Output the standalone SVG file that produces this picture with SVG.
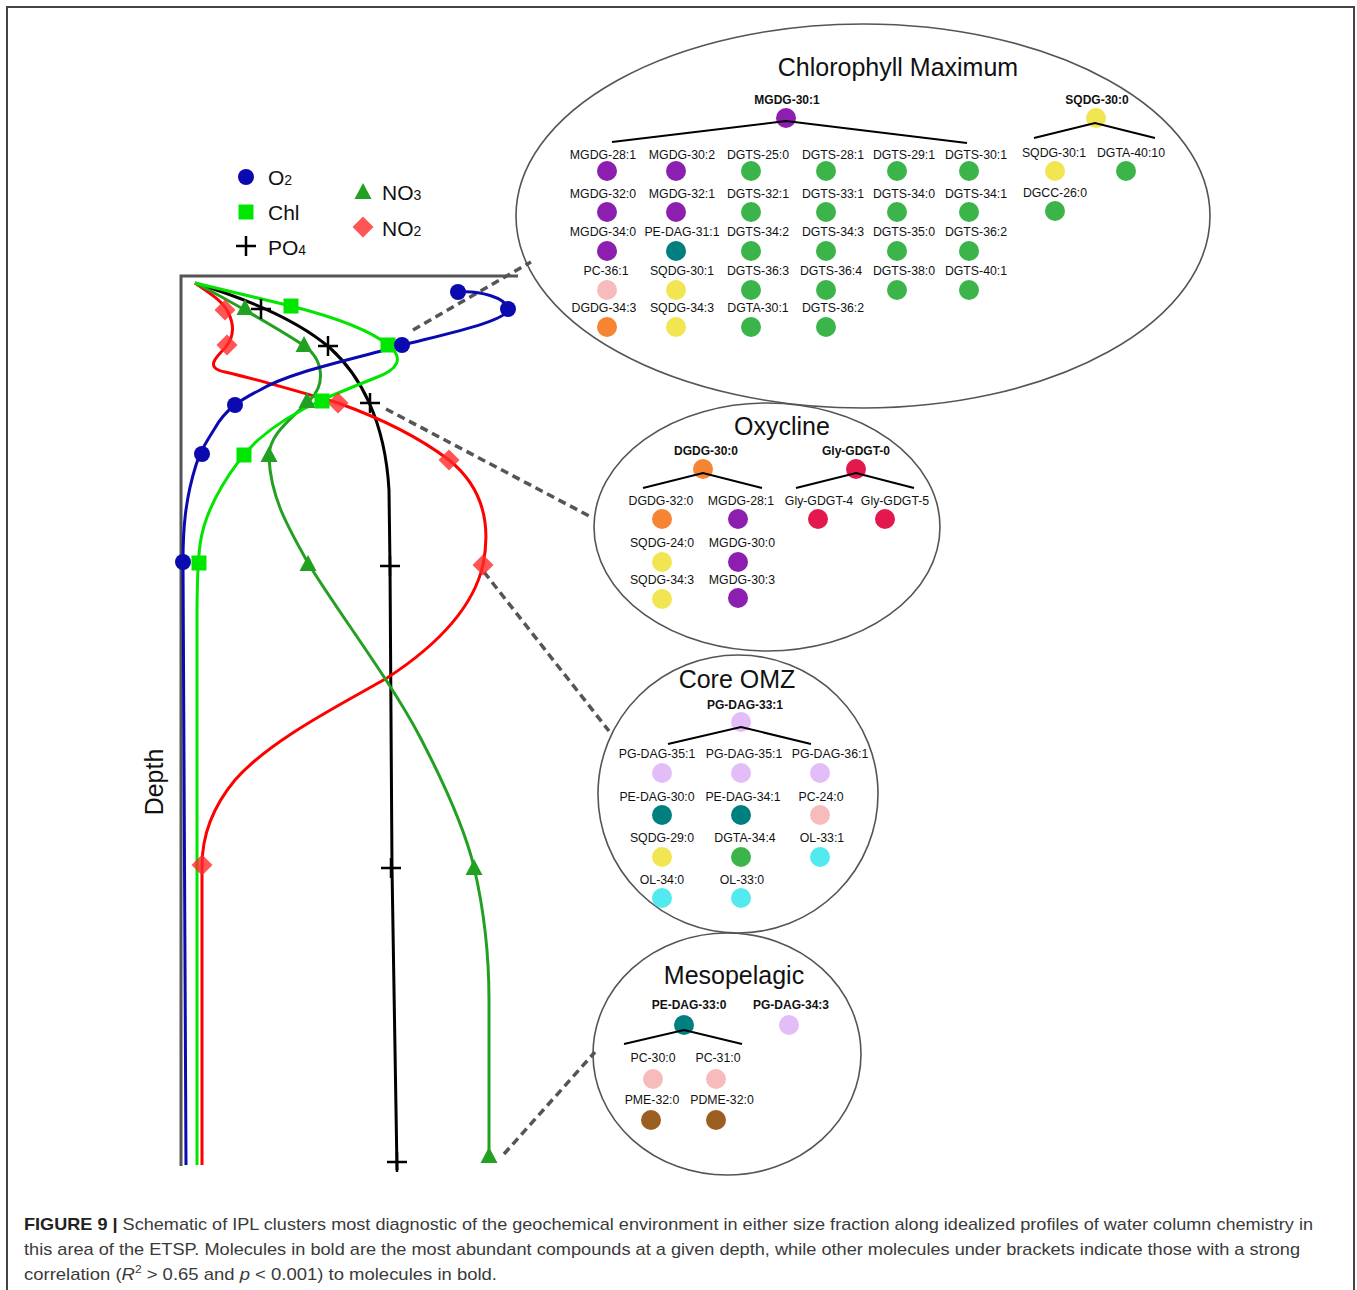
<svg xmlns="http://www.w3.org/2000/svg" width="1357" height="1290" viewBox="0 0 1357 1290">
<style>
text{font-family:"Liberation Sans",Arial,sans-serif;fill:#111}
.l{font-size:12.3px;text-anchor:middle}
.b{font-size:12px;font-weight:bold;text-anchor:middle}
.t{font-size:25px;text-anchor:middle}
.lg{font-size:21px}
.sub{font-size:14px}
.cap{font-size:17px;fill:#3a3a3a}
.ell{fill:none;stroke:#555;stroke-width:1.6}
.br{fill:none;stroke:#000;stroke-width:2}
.dash{fill:none;stroke:#555;stroke-width:3.5;stroke-dasharray:8,5}
.cv{fill:none;stroke-width:3;stroke-linejoin:round}
.pu{fill:#8c1fb0}.gr{fill:#3bb54a}.te{fill:#007f7f}.pk{fill:#f8bbbb}.ye{fill:#f2e552}
.or{fill:#f58433}.cr{fill:#e3184c}.vi{fill:#e3bdf8}.cy{fill:#52eaef}.bw{fill:#9b5e21}
.mO{fill:#0a0ab0}.mC{fill:#00e600}.mN3{fill:#22a022}.mN2{fill:#ff2a2a;fill-opacity:0.8}
.mP{stroke:#000;stroke-width:2.5;fill:none}
</style>
<defs>
<circle id="dot" r="10"/>
<circle id="mo" r="8"/>
<rect id="mc" x="-7.5" y="-7.5" width="15" height="15"/>
<polygon id="mt" points="0,-9 8.5,7 -8.5,7"/>
<polygon id="md" points="0,-10.5 10.5,0 0,10.5 -10.5,0"/>
<path id="mp" d="M-10,0H10M0,-10V10"/>
</defs>

<path d="M7,1290V7H1354V1290" fill="none" stroke="#444" stroke-width="2"/>

<g id="plot">
<path d="M181,1166V276H518" fill="none" stroke="#555" stroke-width="3"/>
<text x="0" y="0" font-size="25" text-anchor="middle" transform="translate(163,782) rotate(-90)">Depth</text>
</g>

<g id="legend">
<use href="#mo" class="mO" x="246" y="177"/><text class="lg" x="268" y="185">O<tspan class="sub">2</tspan></text>
<use href="#mc" class="mC" x="246" y="212"/><text class="lg" x="268" y="220">Chl</text>
<use href="#mp" class="mP" x="246" y="246"/><text class="lg" x="268" y="255">PO<tspan class="sub">4</tspan></text>
<use href="#mt" class="mN3" x="363" y="192"/><text class="lg" x="382" y="200">NO<tspan class="sub">3</tspan></text>
<use href="#md" class="mN2" x="363" y="227"/><text class="lg" x="382" y="236">NO<tspan class="sub">2</tspan></text>
</g>

<g id="connectors">
<path class="dash" d="M413,330L531,262"/>
<path class="dash" d="M386,409L593,518"/>
<path class="dash" d="M484,572L609,731"/>
<path class="dash" d="M504,1154L595,1052"/>
</g>

<g id="profiles">
<path id="po4" class="cv" stroke="#000" d="M195,283C250,300 300,322 330,348C360,375 385,420 389,490L390,566C391,700 392,800 392,868L397,1170"/>
<path id="no2" class="cv" stroke="#ff0000" d="M195,283C205,290 222,300 228,312C236,328 232,340 225,348C215,358 205,368 225,372C260,380 300,392 338,403C380,418 420,438 449,460C480,485 492,520 483,565C472,612 430,650 387,678C340,705 270,740 235,780C210,810 202,840 202,866L202,1165"/>
<path id="no3" class="cv" stroke="#22a022" d="M195,283C220,295 280,330 303,345C325,360 325,385 310,400C290,420 268,435 269,458C271,500 290,530 308,563C340,615 390,680 420,737C445,785 465,830 474,867C484,910 489,950 489,1000L489,1160"/>
<path id="chl" class="cv" stroke="#00e600" d="M195,283L291,306C330,316 370,330 388,345C405,358 398,370 375,378C355,386 335,394 322,400C300,410 275,425 258,440C235,462 205,505 200,545C198,560 197,580 197,620L197,1165"/>
<path id="o2" class="cv" stroke="#0a0ab0" d="M458,292C480,290 505,298 508,308C511,320 450,333 403,345C350,360 290,372 260,390C240,400 225,410 215,428C205,444 200,452 196,465C185,500 183,530 183,561L186,1165"/>
<g class="mN2"><use href="#md" x="225" y="310"/><use href="#md" x="227" y="345"/><use href="#md" x="338" y="403"/><use href="#md" x="449" y="460"/><use href="#md" x="483" y="565"/><use href="#md" x="202" y="865"/></g>
<g class="mN3"><use href="#mt" x="245" y="308"/><use href="#mt" x="304" y="345"/><use href="#mt" x="307" y="401"/><use href="#mt" x="269" y="455"/><use href="#mt" x="308" y="564"/><use href="#mt" x="474" y="868"/><use href="#mt" x="489" y="1156"/></g>
<g class="mP"><use href="#mp" x="261" y="309"/><use href="#mp" x="328" y="346"/><use href="#mp" x="370" y="403"/><use href="#mp" x="390" y="566"/><use href="#mp" x="391" y="868"/><use href="#mp" x="397" y="1162"/></g>
<g class="mC"><use href="#mc" x="291" y="306"/><use href="#mc" x="388" y="345"/><use href="#mc" x="322" y="401"/><use href="#mc" x="244" y="455"/><use href="#mc" x="199" y="563"/></g>
<g class="mO"><use href="#mo" x="458" y="292"/><use href="#mo" x="508" y="309"/><use href="#mo" x="402" y="345"/><use href="#mo" x="235" y="405"/><use href="#mo" x="202" y="454"/><use href="#mo" x="183" y="562"/></g>
</g>

<g id="chlorophyll-maximum">
<ellipse class="ell" cx="863" cy="216" rx="347" ry="192"/>
<text class="t" x="898" y="76">Chlorophyll Maximum</text>
<g id="cm-MGDG-30-1"><text class="b" x="787" y="104">MGDG-30:1</text><use href="#dot" class="pu" x="786" y="118"/></g>
<path class="br" d="M612,142L786,121L967,143"/>
<g id="cm-MGDG-28-1"><text class="l" x="603" y="159">MGDG-28:1</text><use href="#dot" class="pu" x="607" y="171"/></g>
<g id="cm-MGDG-30-2"><text class="l" x="682" y="159">MGDG-30:2</text><use href="#dot" class="pu" x="676" y="171"/></g>
<g id="cm-DGTS-25-0"><text class="l" x="758" y="159">DGTS-25:0</text><use href="#dot" class="gr" x="751" y="171"/></g>
<g id="cm-DGTS-28-1"><text class="l" x="833" y="159">DGTS-28:1</text><use href="#dot" class="gr" x="826" y="171"/></g>
<g id="cm-DGTS-29-1"><text class="l" x="904" y="159">DGTS-29:1</text><use href="#dot" class="gr" x="897" y="171"/></g>
<g id="cm-DGTS-30-1"><text class="l" x="976" y="159">DGTS-30:1</text><use href="#dot" class="gr" x="969" y="171"/></g>
<g id="cm-MGDG-32-0"><text class="l" x="603" y="198">MGDG-32:0</text><use href="#dot" class="pu" x="607" y="212"/></g>
<g id="cm-MGDG-32-1"><text class="l" x="682" y="198">MGDG-32:1</text><use href="#dot" class="pu" x="676" y="212"/></g>
<g id="cm-DGTS-32-1"><text class="l" x="758" y="198">DGTS-32:1</text><use href="#dot" class="gr" x="751" y="212"/></g>
<g id="cm-DGTS-33-1"><text class="l" x="833" y="198">DGTS-33:1</text><use href="#dot" class="gr" x="826" y="212"/></g>
<g id="cm-DGTS-34-0"><text class="l" x="904" y="198">DGTS-34:0</text><use href="#dot" class="gr" x="897" y="212"/></g>
<g id="cm-DGTS-34-1"><text class="l" x="976" y="198">DGTS-34:1</text><use href="#dot" class="gr" x="969" y="212"/></g>
<g id="cm-MGDG-34-0"><text class="l" x="603" y="236">MGDG-34:0</text><use href="#dot" class="pu" x="607" y="251"/></g>
<g id="cm-PE-DAG-31-1"><text class="l" x="682" y="236">PE-DAG-31:1</text><use href="#dot" class="te" x="676" y="251"/></g>
<g id="cm-DGTS-34-2"><text class="l" x="758" y="236">DGTS-34:2</text><use href="#dot" class="gr" x="751" y="251"/></g>
<g id="cm-DGTS-34-3"><text class="l" x="833" y="236">DGTS-34:3</text><use href="#dot" class="gr" x="826" y="251"/></g>
<g id="cm-DGTS-35-0"><text class="l" x="904" y="236">DGTS-35:0</text><use href="#dot" class="gr" x="897" y="251"/></g>
<g id="cm-DGTS-36-2"><text class="l" x="976" y="236">DGTS-36:2</text><use href="#dot" class="gr" x="969" y="251"/></g>
<g id="cm-PC-36-1"><text class="l" x="606" y="275">PC-36:1</text><use href="#dot" class="pk" x="607" y="290"/></g>
<g id="cm-SQDG-30-1"><text class="l" x="682" y="275">SQDG-30:1</text><use href="#dot" class="ye" x="676" y="290"/></g>
<g id="cm-DGTS-36-3"><text class="l" x="758" y="275">DGTS-36:3</text><use href="#dot" class="gr" x="751" y="290"/></g>
<g id="cm-DGTS-36-4"><text class="l" x="831" y="275">DGTS-36:4</text><use href="#dot" class="gr" x="826" y="290"/></g>
<g id="cm-DGTS-38-0"><text class="l" x="904" y="275">DGTS-38:0</text><use href="#dot" class="gr" x="897" y="290"/></g>
<g id="cm-DGTS-40-1"><text class="l" x="976" y="275">DGTS-40:1</text><use href="#dot" class="gr" x="969" y="290"/></g>
<g id="cm-DGDG-34-3"><text class="l" x="604" y="312">DGDG-34:3</text><use href="#dot" class="or" x="607" y="327"/></g>
<g id="cm-SQDG-34-3"><text class="l" x="682" y="312">SQDG-34:3</text><use href="#dot" class="ye" x="676" y="327"/></g>
<g id="cm-DGTA-30-1"><text class="l" x="758" y="312">DGTA-30:1</text><use href="#dot" class="gr" x="751" y="327"/></g>
<g id="cm-DGTS-36-2b"><text class="l" x="833" y="312">DGTS-36:2</text><use href="#dot" class="gr" x="826" y="327"/></g>
<g id="cm-SQDG-30-0"><text class="b" x="1097" y="104">SQDG-30:0</text><use href="#dot" class="ye" x="1096" y="118"/></g>
<path class="br" d="M1034,138L1095,123L1155,138"/>
<g id="cm-SQDG-30-1b"><text class="l" x="1054" y="157">SQDG-30:1</text><use href="#dot" class="ye" x="1055" y="171"/></g>
<g id="cm-DGTA-40-10"><text class="l" x="1131" y="157">DGTA-40:10</text><use href="#dot" class="gr" x="1126" y="171"/></g>
<g id="cm-DGCC-26-0"><text class="l" x="1055" y="197">DGCC-26:0</text><use href="#dot" class="gr" x="1055" y="211"/></g>
</g>

<g id="oxycline">
<ellipse class="ell" cx="767" cy="527" rx="173" ry="124"/>
<text class="t" x="782" y="435">Oxycline</text>
<g id="ox-DGDG-30-0"><text class="b" x="706" y="455">DGDG-30:0</text><use href="#dot" class="or" x="703" y="469"/></g>
<path class="br" d="M643,488L703,473L762,488"/>
<g id="ox-Gly-GDGT-0"><text class="b" x="856" y="455">Gly-GDGT-0</text><use href="#dot" class="cr" x="856" y="469"/></g>
<path class="br" d="M796,488L856,473L914,488"/>
<g id="ox-DGDG-32-0"><text class="l" x="661" y="505">DGDG-32:0</text><use href="#dot" class="or" x="662" y="519"/></g>
<g id="ox-MGDG-28-1"><text class="l" x="741" y="505">MGDG-28:1</text><use href="#dot" class="pu" x="738" y="519"/></g>
<g id="ox-Gly-GDGT-4"><text class="l" x="819" y="505">Gly-GDGT-4</text><use href="#dot" class="cr" x="818" y="519"/></g>
<g id="ox-Gly-GDGT-5"><text class="l" x="895" y="505">Gly-GDGT-5</text><use href="#dot" class="cr" x="885" y="519"/></g>
<g id="ox-SQDG-24-0"><text class="l" x="662" y="547">SQDG-24:0</text><use href="#dot" class="ye" x="662" y="562"/></g>
<g id="ox-MGDG-30-0"><text class="l" x="742" y="547">MGDG-30:0</text><use href="#dot" class="pu" x="738" y="562"/></g>
<g id="ox-SQDG-34-3"><text class="l" x="662" y="584">SQDG-34:3</text><use href="#dot" class="ye" x="662" y="599"/></g>
<g id="ox-MGDG-30-3"><text class="l" x="742" y="584">MGDG-30:3</text><use href="#dot" class="pu" x="738" y="598"/></g>
</g>

<g id="core-omz">
<ellipse class="ell" cx="738" cy="794" rx="140" ry="139"/>
<text class="t" x="737" y="688">Core OMZ</text>
<g id="om-PG-DAG-33-1"><text class="b" x="745" y="709">PG-DAG-33:1</text><use href="#dot" class="vi" x="741" y="722"/></g>
<path class="br" d="M668,744L741,727L811,744"/>
<g id="om-PG-DAG-35-1a"><text class="l" x="657" y="758">PG-DAG-35:1</text><use href="#dot" class="vi" x="662" y="773"/></g>
<g id="om-PG-DAG-35-1b"><text class="l" x="744" y="758">PG-DAG-35:1</text><use href="#dot" class="vi" x="741" y="773"/></g>
<g id="om-PG-DAG-36-1"><text class="l" x="830" y="758">PG-DAG-36:1</text><use href="#dot" class="vi" x="820" y="773"/></g>
<g id="om-PE-DAG-30-0"><text class="l" x="657" y="801">PE-DAG-30:0</text><use href="#dot" class="te" x="662" y="815"/></g>
<g id="om-PE-DAG-34-1"><text class="l" x="743" y="801">PE-DAG-34:1</text><use href="#dot" class="te" x="741" y="815"/></g>
<g id="om-PC-24-0"><text class="l" x="821" y="801">PC-24:0</text><use href="#dot" class="pk" x="820" y="815"/></g>
<g id="om-SQDG-29-0"><text class="l" x="662" y="842">SQDG-29:0</text><use href="#dot" class="ye" x="662" y="857"/></g>
<g id="om-DGTA-34-4"><text class="l" x="745" y="842">DGTA-34:4</text><use href="#dot" class="gr" x="741" y="857"/></g>
<g id="om-OL-33-1"><text class="l" x="822" y="842">OL-33:1</text><use href="#dot" class="cy" x="820" y="857"/></g>
<g id="om-OL-34-0"><text class="l" x="662" y="884">OL-34:0</text><use href="#dot" class="cy" x="662" y="898"/></g>
<g id="om-OL-33-0"><text class="l" x="742" y="884">OL-33:0</text><use href="#dot" class="cy" x="741" y="898"/></g>
</g>

<g id="mesopelagic">
<ellipse class="ell" cx="727" cy="1054" rx="134" ry="121"/>
<text class="t" x="734" y="984">Mesopelagic</text>
<g id="me-PE-DAG-33-0"><text class="b" x="689" y="1009">PE-DAG-33:0</text><use href="#dot" class="te" x="684" y="1025"/></g>
<path class="br" d="M624,1044L684,1030L742,1044"/>
<g id="me-PG-DAG-34-3"><text class="b" x="791" y="1009">PG-DAG-34:3</text><use href="#dot" class="vi" x="789" y="1025"/></g>
<g id="me-PC-30-0"><text class="l" x="653" y="1062">PC-30:0</text><use href="#dot" class="pk" x="653" y="1079"/></g>
<g id="me-PC-31-0"><text class="l" x="718" y="1062">PC-31:0</text><use href="#dot" class="pk" x="716" y="1079"/></g>
<g id="me-PME-32-0"><text class="l" x="652" y="1104">PME-32:0</text><use href="#dot" class="bw" x="651" y="1120"/></g>
<g id="me-PDME-32-0"><text class="l" x="722" y="1104">PDME-32:0</text><use href="#dot" class="bw" x="716" y="1120"/></g>
</g>

<g id="caption">
<text class="cap" x="24" y="1230" textLength="1289" lengthAdjust="spacingAndGlyphs"><tspan font-weight="bold" fill="#222">FIGURE 9 |</tspan> Schematic of IPL clusters most diagnostic of the geochemical environment in either size fraction along idealized profiles of water column chemistry in</text>
<text class="cap" x="24" y="1255" textLength="1276" lengthAdjust="spacingAndGlyphs">this area of the ETSP. Molecules in bold are the most abundant compounds at a given depth, while other molecules under brackets indicate those with a strong</text>
<text class="cap" x="24" y="1280" textLength="473" lengthAdjust="spacingAndGlyphs">correlation (<tspan font-style="italic">R</tspan><tspan font-size="11" dy="-7">2</tspan><tspan dy="7"> &gt; 0.65 and </tspan><tspan font-style="italic">p</tspan> &lt; 0.001) to molecules in bold.</text>
</g>
</svg>
